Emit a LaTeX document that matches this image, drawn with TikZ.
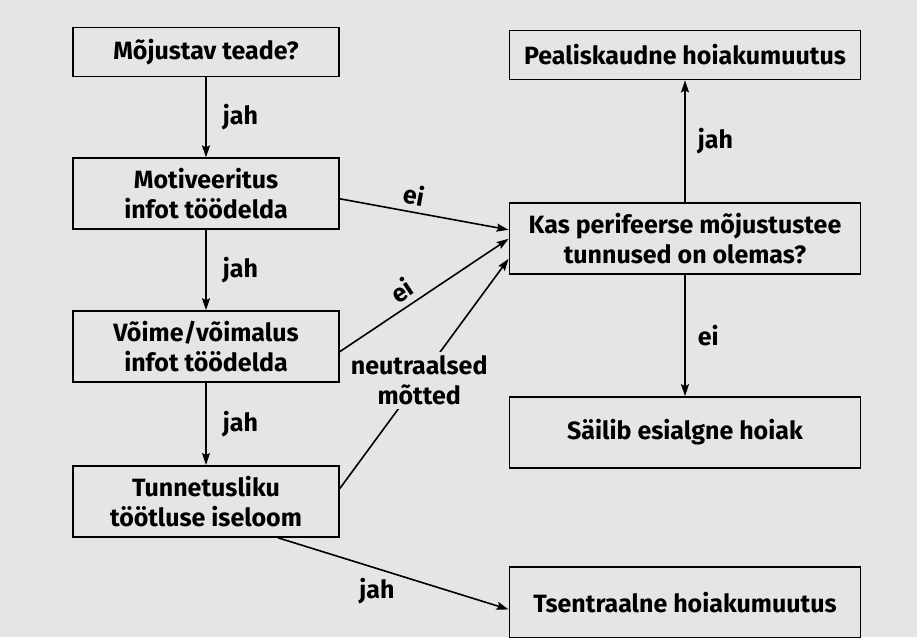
\documentclass[tikz,border=0pt]{standalone}
\usepackage{fontspec}
\setmainfont{Fira Sans}
\usetikzlibrary{arrows.meta,positioning}
\definecolor{paper}{RGB}{229,229,229}

\begin{document}
\begin{tikzpicture}[x=1pt,y=-1pt,node distance=80pt,
box/.style={draw,line width=1.8pt,fill=paper,align=center,minimum width=266pt,minimum height=49pt,font=\fontsize{25}{30}\selectfont\bfseries},
wbox/.style={box,minimum width=351pt},
tbox/.style={minimum height=71pt},
lbl/.style={font=\fontsize{25}{30}\selectfont\bfseries,inner sep=2pt},
arr/.style={-{Stealth[length=12pt,width=8pt,inset=2pt]},line width=1.6pt}]
\fill[paper] (0,0) rectangle (917,637);
\useasboundingbox (0,0) rectangle (917,637);
\node[box] (teade) at (206,52) {Mõjustav teade?};
\node[box,tbox,below=of teade] (motiv) {Motiveeritus\\infot töödelda};
\node[box,tbox,below=of motiv] (voime) {Võime/võimalus\\infot töödelda};
\node[box,tbox,below=82pt of voime] (tunnet) {Tunnetusliku\\töötluse iseloom};
\node[wbox] (pinnas) at (685,55) {Pealiskaudne hoiakumuutus};
\node[wbox,tbox,below=122pt of pinnas] (kas) {Kas perifeerse mõjustustee\\tunnused on olemas?};
\node[wbox,tbox,below=121pt of kas] (sailib) {Säilib esialgne hoiak};
\node[wbox,tbox,below=97pt of sailib] (tsent) {Tsentraalne hoiakumuutus};
\draw[arr] (teade)--node[lbl,right=14pt]{jah}(motiv);
\draw[arr] (motiv)--node[lbl,right=14pt]{jah}(voime);
\draw[arr] (voime)--node[lbl,right=14pt]{jah}(tunnet);
\draw[arr] ([yshift=-5pt]motiv.east)--node[lbl,pos=0.42,above=4pt,sloped]{ei}([yshift=9pt]kas.west);
\draw[arr] ([yshift=-5pt]voime.east)--node[lbl,pos=0.42,above=4pt,sloped]{ei}(kas.west);
\draw[arr] ([yshift=13pt]tunnet.east)--node[lbl,pos=0.47,fill=paper,align=center,inner sep=4pt]{neutraalsed\\mõtted}([yshift=-20pt]kas.west);
\draw[arr] ([xshift=72pt]tunnet.south)--node[lbl,below left=2pt and -4pt]{jah}([yshift=-7pt]tsent.west);
\draw[arr] (kas)--node[lbl,right=10pt]{jah}(pinnas);
\draw[arr] (kas)--node[lbl,right=10pt]{ei}(sailib);
\end{tikzpicture}
\end{document}
